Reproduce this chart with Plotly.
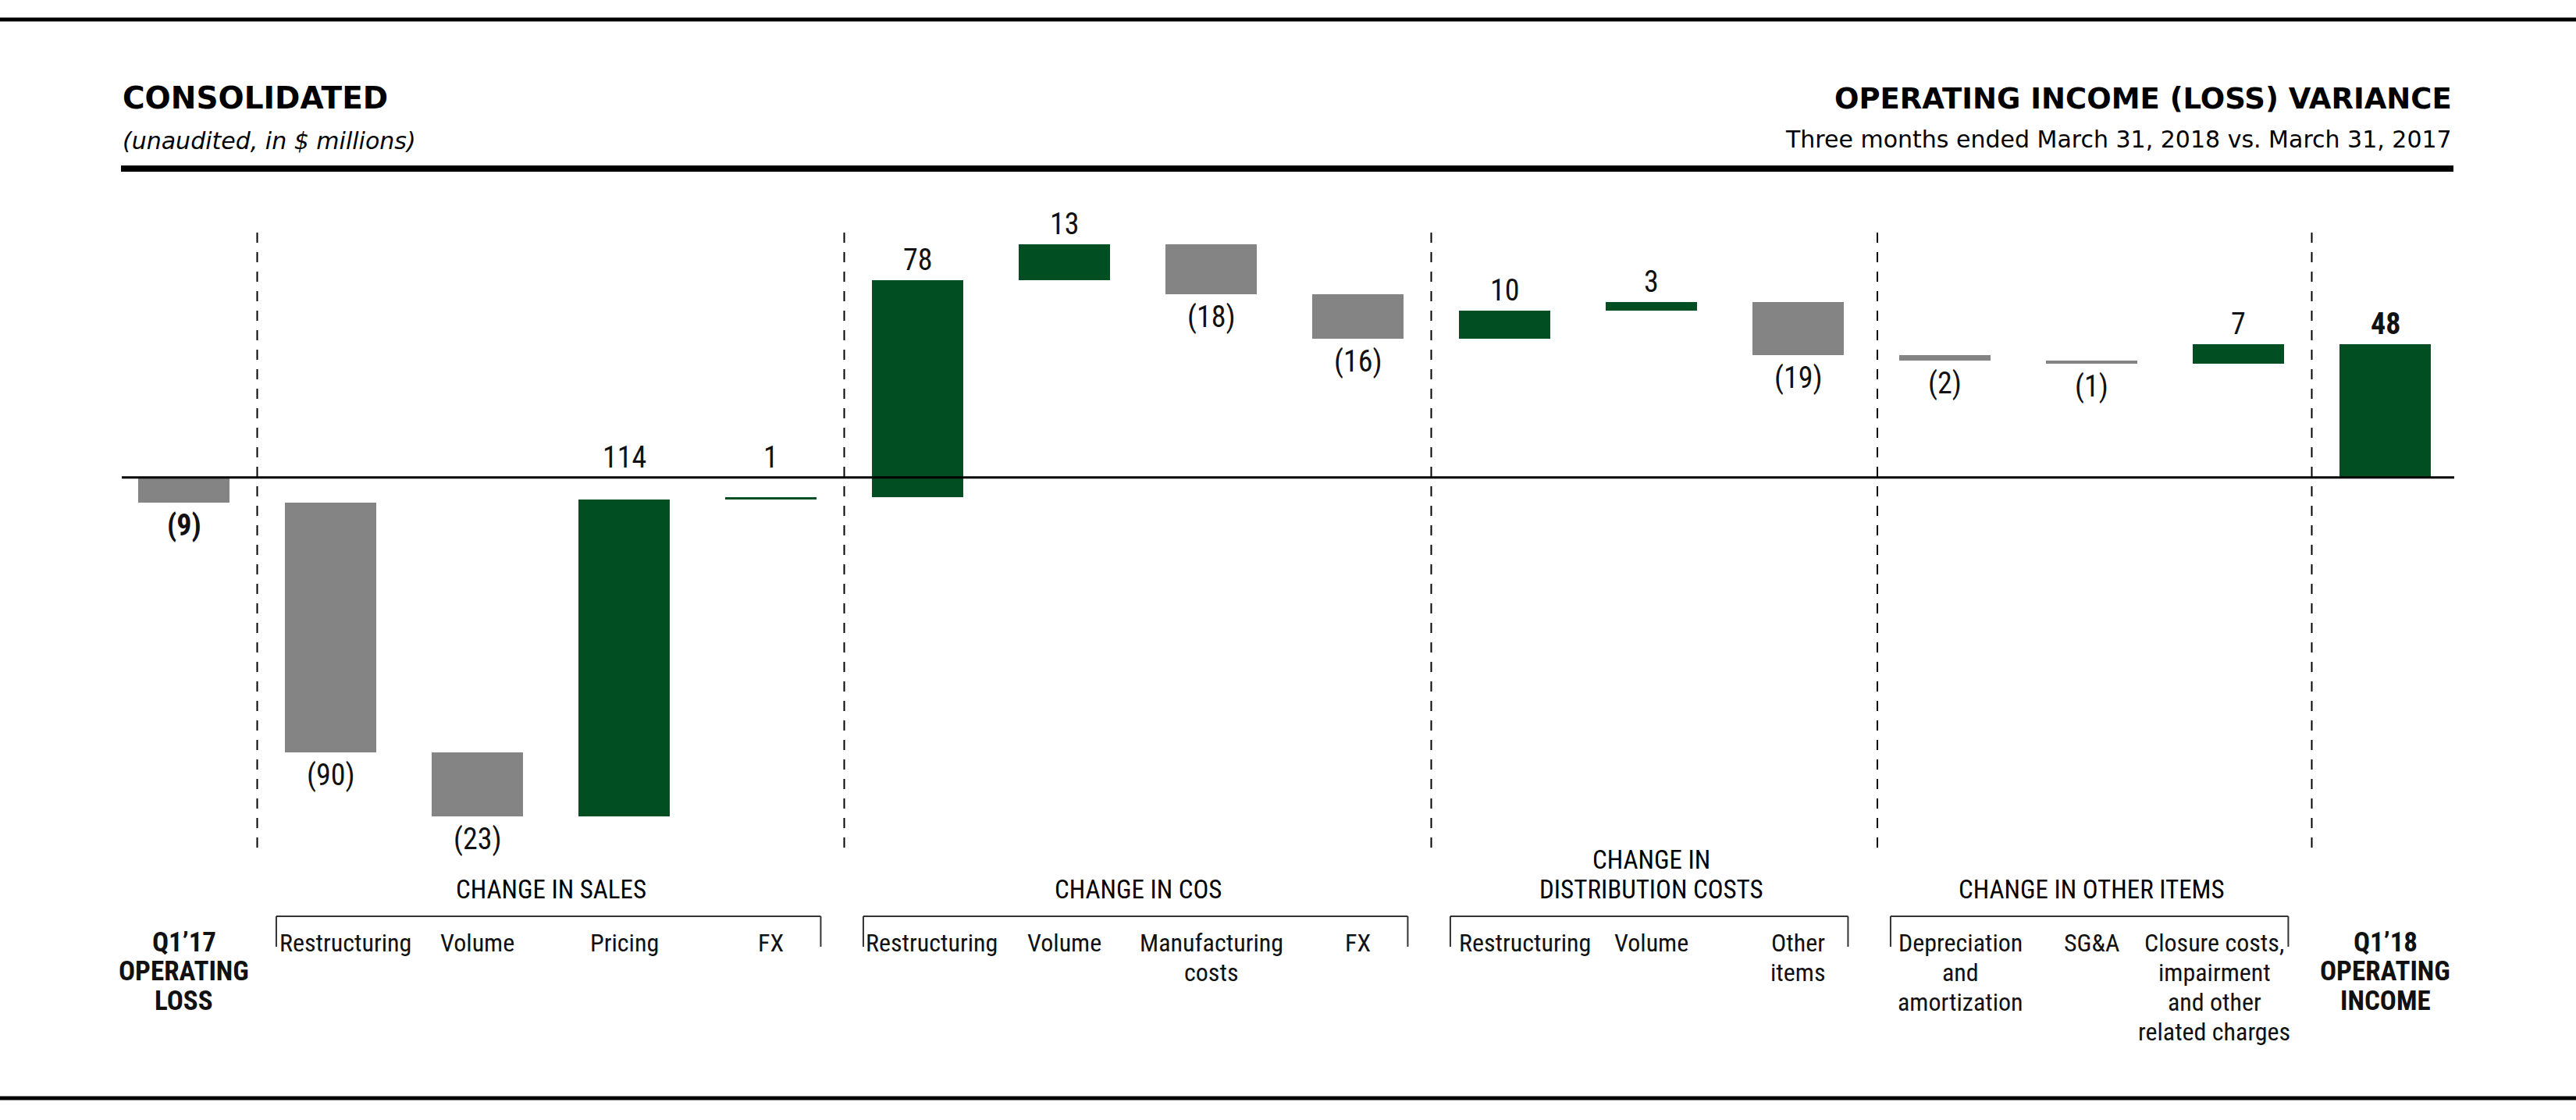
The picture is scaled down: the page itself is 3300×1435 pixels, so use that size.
import plotly.graph_objects as go

# ---------------- data ----------------
categories = ["Q1\u201917<br>OPERATING<br>LOSS", "Restructuring", "Volume", "Pricing", "FX",
              "Restructuring", "Volume", "Manufacturing<br>costs", "FX",
              "Restructuring", "Volume", "Other<br>items",
              "Depreciation<br>and<br>amortization", "SG&A",
              "Closure costs,<br>impairment<br>and other<br>related charges",
              "Q1\u201918<br>OPERATING<br>INCOME"]
values = [-9, -90, -23, 114, 1, 78, 13, -18, -16, 10, 3, -19, -2, -1, 7, 48]
measures = ["absolute"] + ["relative"] * 14 + ["total"]
group_names = ["CHANGE IN SALES", "CHANGE IN COS", "CHANGE IN<br>DISTRIBUTION COSTS", "CHANGE IN OTHER ITEMS"]
group_members = [[1, 2, 3, 4], [5, 6, 7, 8], [9, 10, 11], [12, 13, 14]]
title_left = "CONSOLIDATED"
subtitle_left = "(unaudited, in $ millions)"
title_right = "OPERATING INCOME (LOSS) VARIANCE"
subtitle_right = "Three months ended March 31, 2018 vs. March 31, 2017"

# ---------------- styling / layout ----------------
W, H = 3300, 1435
GREEN = "#004E22"
GRAY = "#848484"
INK = "#111111"
NARROW = "Roboto Condensed, Liberation Sans, sans-serif"
WIDE = "DejaVu Sans, Liberation Sans, sans-serif"

PX_PER_CAT = 188.0
X0 = -235.5 / PX_PER_CAT
X1 = X0 + W / PX_PER_CAT
ZERO_PX = 611.7
PX_PER_UNIT = 3.56
Y_TOP = ZERO_PX / PX_PER_UNIT
Y_BOT = -(H - ZERO_PX) / PX_PER_UNIT


def pyp(p):
    return 1 - p / H


def pxp(p):
    return p / W


def fmt(v):
    return str(v) if v >= 0 else "(%d)" % (-v)


bases = []
running = 0
for v, m in zip(values, measures):
    if m == "relative":
        base = running
        running += v
    else:
        base = 0
        running = v
    bases.append(base)

xs = list(range(len(categories)))
colors = [GREEN if v > 0 else GRAY for v in values]

fig = go.Figure()
fig.add_trace(go.Bar(x=xs, y=values, base=bases, marker=dict(color=colors, line=dict(width=0)),
                     width=0.622, hoverinfo="skip"))

ann = []
shapes = []

# value labels
for i, (v, b, m) in enumerate(zip(values, bases, measures)):
    bold = m != "relative"
    txt = fmt(v)
    if bold:
        txt = "<b>%s</b>" % txt
    if v > 0:
        ann.append(dict(x=i, y=max(b + v, 0), xref="x", yref="y", text=txt, showarrow=False,
                        yanchor="bottom", yshift=2, font=dict(family=NARROW, size=38, color=INK)))
    else:
        ann.append(dict(x=i, y=b + v, xref="x", yref="y", text=txt, showarrow=False,
                        yanchor="top", yshift=-5, font=dict(family=NARROW, size=38, color=INK)))

# category labels, one annotation per line for tight leading
label_nudge = {1: 19, 5: 18, 9: 26, 12: 20, 14: -31}
for i, lab in enumerate(categories):
    lines = lab.split("<br>")
    total = measures[i] != "relative"
    for k, line in enumerate(lines):
        if total:
            ann.append(dict(x=i, y=pyp(1184.5 + k * 37.5), xref="x", yref="paper", text="<b>%s</b>" % line,
                            showarrow=False, yanchor="top", font=dict(family=NARROW, size=35, color=INK)))
        else:
            ann.append(dict(x=i, y=pyp(1187 + k * 38), xref="x", yref="paper", text=line,
                            showarrow=False, yanchor="top", xshift=label_nudge.get(i, 0),
                            font=dict(family=NARROW, size=32, color=INK)))

# group labels and brackets
for name, mem in zip(group_names, group_members):
    cx = sum(mem) / len(mem)
    lines = name.split("<br>")
    for k, line in enumerate(reversed(lines)):
        ann.append(dict(x=cx, y=pyp(1161 - k * 38), xref="x", yref="paper", text=line,
                        showarrow=False, yanchor="bottom",
                        font=dict(family=NARROW, size=33, color="#000000")))
    left = mem[0] - 0.37
    right = mem[-1] + 0.34
    bl = dict(color="#333333", width=2)
    shapes.append(dict(type="line", xref="x", yref="paper", x0=left, x1=right,
                       y0=pyp(1174), y1=pyp(1174), line=bl))
    for xx in (left, right):
        shapes.append(dict(type="line", xref="x", yref="paper", x0=xx, x1=xx,
                           y0=pyp(1174), y1=pyp(1213), line=bl))

# dashed separators
for xx in (0.5, 4.5, 8.5, 11.54, 14.5):
    shapes.append(dict(type="line", xref="x", yref="paper", x0=xx, x1=xx, y0=pyp(298), y1=pyp(1097),
                       line=dict(color="#000000", width=2, dash="13px,12px")))

# zero line and rules
shapes.append(dict(type="line", xref="paper", yref="y", x0=pxp(156), x1=pxp(3144), y0=0, y1=0,
                   line=dict(color="#000000", width=3), layer="above"))
shapes.append(dict(type="line", xref="paper", yref="paper", x0=0, x1=1, y0=pyp(25), y1=pyp(25),
                   line=dict(color="#000000", width=5)))
shapes.append(dict(type="line", xref="paper", yref="paper", x0=pxp(155), x1=pxp(3143),
                   y0=pyp(216), y1=pyp(216), line=dict(color="#000000", width=8)))
shapes.append(dict(type="line", xref="paper", yref="paper", x0=0, x1=1, y0=pyp(1407), y1=pyp(1407),
                   line=dict(color="#000000", width=5)))

# header texts
ann.append(dict(x=pxp(155), y=pyp(150), xref="paper", yref="paper", text="<b>%s</b>" % title_left,
                showarrow=False, xanchor="left", yanchor="bottom", font=dict(family=WIDE, size=39, color="#000")))
ann.append(dict(x=pxp(155), y=pyp(200), xref="paper", yref="paper", text="<i>%s</i>" % subtitle_left,
                showarrow=False, xanchor="left", yanchor="bottom", font=dict(family=WIDE, size=30, color="#000")))
ann.append(dict(x=pxp(3143), y=pyp(150), xref="paper", yref="paper", text="<b>%s</b>" % title_right,
                showarrow=False, xanchor="right", yanchor="bottom", font=dict(family=WIDE, size=37, color="#000")))
ann.append(dict(x=pxp(3143), y=pyp(198), xref="paper", yref="paper", text=subtitle_right,
                showarrow=False, xanchor="right", yanchor="bottom", font=dict(family=WIDE, size=30, color="#000")))

fig.update_layout(
    width=W, height=H, autosize=False,
    margin=dict(l=0, r=0, t=0, b=0, pad=0),
    paper_bgcolor="white", plot_bgcolor="white",
    showlegend=False, bargap=0,
    xaxis=dict(range=[X0, X1], visible=False, fixedrange=True),
    yaxis=dict(range=[Y_BOT, Y_TOP], visible=False, fixedrange=True),
    annotations=ann, shapes=shapes,
)

fig.write_html("out.html", config={"displayModeBar": False},
               post_script="document.body.style.margin='0';document.body.style.padding='0';")
